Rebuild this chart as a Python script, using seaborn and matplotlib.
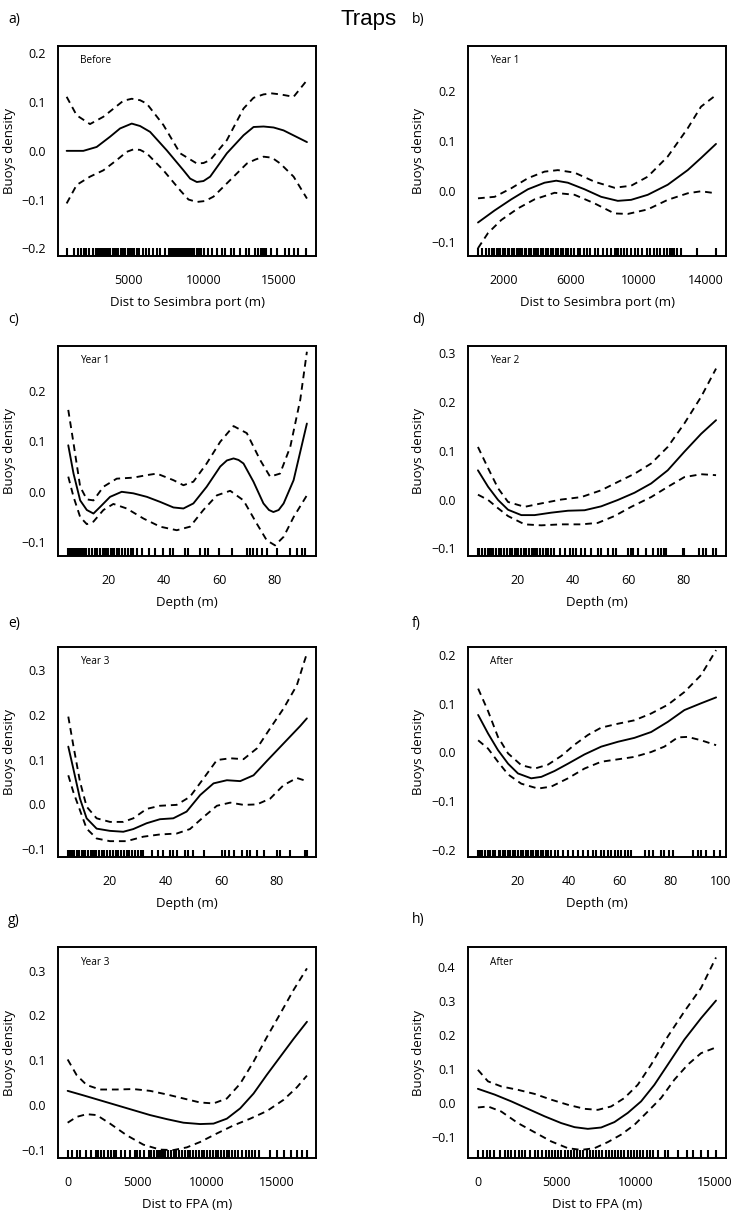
import matplotlib
matplotlib.use("Agg")
import matplotlib.pyplot as plt
import seaborn as sns

# a) Before - distance to Sesimbra port
a_fit_x = [889, 2000, 2889, 3778, 4444, 5222, 5778, 6444, 7556, 8667, 9111, 9556, 10000, 10444, 11556,
           12667, 13333, 14000, 14667, 15333, 16889]
a_fit_y = [0.000, 0.000, 0.008, 0.029, 0.046, 0.056, 0.051, 0.039, 0.001, -0.040, -0.057, -0.064, -0.062,
           -0.053, -0.005, 0.032, 0.049, 0.050, 0.048, 0.042, 0.018]
a_hi_x = [889, 1556, 2444, 3333, 4222, 4667, 5222, 5778, 6222, 7333, 8444, 9556, 10000, 10444, 11556,
          12667, 13333, 14000, 14556, 15111, 16000, 16889]
a_hi_y = [0.111, 0.073, 0.055, 0.070, 0.092, 0.103, 0.107, 0.104, 0.097, 0.053, -0.005, -0.026, -0.025,
          -0.019, 0.022, 0.087, 0.109, 0.116, 0.118, 0.116, 0.111, 0.145]
a_lo_x = [889, 1556, 2444, 3333, 4222, 4889, 5333, 5778, 6222, 7333, 8444, 9000, 9556, 10111, 10667,
          11778, 12889, 13444, 14000, 14556, 15111, 16000, 16889]
a_lo_y = [-0.108, -0.070, -0.053, -0.040, -0.019, -0.002, 0.003, 0.002, -0.005, -0.040, -0.081, -0.100,
          -0.105, -0.103, -0.094, -0.060, -0.026, -0.018, -0.012, -0.014, -0.026, -0.053, -0.098]
a_rug = [900, 1400, 1650, 1850, 2050, 2200, 2400, 2650, 2850, 3000, 3100, 3150, 3250, 3350, 3400, 3500,
         3600, 3650, 3800, 3950, 4100, 4200, 4300, 4500, 4650, 4800, 4950, 5100, 5250, 5400, 5550, 5700,
         5950, 6150, 6400, 6650, 6900, 7100, 7450, 7700, 7850, 8000, 8100, 8150, 8300, 8400, 8500, 8600,
         8650, 8800, 8900, 9000, 9100, 9150, 9300, 9400, 9550, 9700, 9850, 10050, 10300, 10550, 10900,
         11200, 11450, 11800, 12050, 12450, 12800, 13050, 13400, 13650, 13800, 13900, 14000, 14150,
         14500, 14900, 15400, 15700, 16000, 16300, 16850]

# b) Year 1 - distance to Sesimbra port
b_fit_x = [488, 1475, 2462, 3449, 4436, 5127, 5818, 6805, 7792, 8779, 9569, 10556, 11741, 12925, 13715, 14604]
b_fit_y = [-0.062, -0.038, -0.016, 0.004, 0.017, 0.021, 0.017, 0.004, -0.011, -0.019, -0.017, -0.007,
           0.013, 0.042, 0.066, 0.094]
b_hi_x = [488, 1475, 2462, 3449, 4436, 5226, 6213, 7397, 8582, 9569, 10556, 11741, 12925, 13715, 14604]
b_hi_y = [-0.014, -0.011, 0.006, 0.026, 0.039, 0.042, 0.037, 0.019, 0.007, 0.011, 0.029, 0.069, 0.125,
          0.168, 0.191]
b_lo_x = [488, 1080, 1870, 2857, 3844, 5029, 6213, 7397, 8582, 9372, 10556, 11741, 12925, 13715, 14604]
b_lo_y = [-0.113, -0.083, -0.057, -0.034, -0.016, -0.003, -0.007, -0.024, -0.044, -0.045, -0.036, -0.017,
          -0.004, 0.000, -0.004]
b_rug = [490, 750, 950, 1150, 1300, 1450, 1600, 1700, 1800, 1950, 2100, 2250, 2350, 2500, 2650, 2800,
         2900, 2950, 3100, 3250, 3350, 3500, 3650, 3800, 3900, 4050, 4200, 4350, 4500, 4650, 4800, 4950,
         5100, 5250, 5400, 5550, 5700, 5850, 6000, 6200, 6400, 6550, 6750, 6950, 7150, 7400, 7600, 7900,
         8150, 8400, 8600, 8700, 8800, 8950, 9150, 9350, 9550, 9800, 10000, 10200, 10500, 10700, 10900,
         11100, 11300, 11500, 11700, 11900, 12000, 12100, 12300, 12500, 13500, 14600]

# c) Year 1 - depth
c_fit_x = [5.5, 7.4, 9.8, 12.2, 14.6, 17.0, 20.6, 24.8, 29.0, 33.9, 38.7, 43.5, 47.1, 50.7, 55.5, 60.4,
           62.8, 65.2, 67.0, 68.8, 72.4, 76.0, 78.0, 79.6, 81.5, 83.3, 86.9, 91.7]
c_fit_y = [0.092, 0.036, -0.017, -0.036, -0.043, -0.030, -0.010, 0.000, -0.003, -0.010, -0.020, -0.031,
           -0.033, -0.023, 0.010, 0.050, 0.062, 0.066, 0.063, 0.056, 0.020, -0.023, -0.036, -0.040,
           -0.036, -0.023, 0.023, 0.135]
c_hi_x = [5.5, 7.4, 9.8, 12.2, 14.6, 18.2, 23.0, 29.0, 33.9, 37.5, 43.5, 47.1, 50.7, 55.5, 60.4, 65.2,
          70.0, 74.8, 78.4, 82.0, 85.7, 89.3, 91.7]
c_hi_y = [0.162, 0.096, 0.010, -0.015, -0.017, 0.010, 0.026, 0.028, 0.033, 0.036, 0.023, 0.013, 0.020,
          0.056, 0.099, 0.130, 0.116, 0.063, 0.030, 0.036, 0.089, 0.182, 0.277]
c_lo_x = [5.5, 7.4, 9.8, 12.2, 14.6, 18.2, 21.8, 26.6, 32.7, 38.7, 44.7, 49.5, 54.3, 59.2, 64.0, 68.8,
          73.6, 77.2, 80.2, 83.3, 86.9, 91.7]
c_lo_y = [0.030, -0.010, -0.050, -0.064, -0.059, -0.036, -0.024, -0.033, -0.053, -0.069, -0.076, -0.069,
          -0.036, -0.007, 0.002, -0.017, -0.063, -0.096, -0.106, -0.089, -0.050, -0.007]
c_rug = [5.5, 6.0, 6.5, 7.0, 7.5, 8.0, 8.5, 9.0, 9.5, 10.0, 10.5, 11.0, 11.5, 12.0, 13.0, 14.0, 15.0,
         16.0, 17.0, 18.0, 18.5, 19.0, 20.0, 21.0, 21.5, 22.0, 23.0, 23.5, 24.0, 25.0, 26.0, 27.0, 28.0,
         29.0, 30.5, 32.0, 34.5, 36.9, 39.9, 42.3, 43.5, 47.7, 48.9, 53.1, 54.9, 56.1, 59.8, 64.6, 70.0,
         71.2, 72.4, 73.6, 75.4, 77.2, 80.8, 85.7, 88.1, 89.9, 91.1]

# d) Year 2 - depth
d_fit_x = [5.5, 9.2, 12.8, 16.4, 21.2, 26.0, 32.0, 38.1, 44.1, 50.1, 56.1, 62.2, 68.2, 74.2, 80.2, 86.3, 91.7]
d_fit_y = [0.060, 0.026, -0.001, -0.021, -0.032, -0.032, -0.027, -0.023, -0.022, -0.014, -0.001, 0.014,
           0.033, 0.060, 0.098, 0.135, 0.163]
d_hi_x = [5.5, 9.2, 12.8, 16.4, 22.4, 28.4, 35.7, 42.9, 50.1, 56.1, 62.2, 68.2, 74.2, 80.2, 86.3, 91.7]
d_hi_y = [0.108, 0.064, 0.023, -0.005, -0.015, -0.008, 0.000, 0.005, 0.019, 0.036, 0.053, 0.074, 0.108,
          0.156, 0.211, 0.269]
d_lo_x = [5.5, 9.2, 12.8, 16.4, 22.4, 28.4, 35.7, 42.9, 48.9, 54.9, 61.0, 68.2, 74.2, 80.2, 86.3, 91.7]
d_lo_y = [0.010, -0.001, -0.018, -0.034, -0.051, -0.053, -0.051, -0.051, -0.048, -0.034, -0.015, 0.005,
          0.026, 0.046, 0.052, 0.050]
d_rug = [5.5, 6.0, 7.0, 8.0, 9.0, 10.0, 10.5, 11.0, 12.0, 13.0, 13.5, 14.0, 15.0, 16.0, 17.0, 18.0, 19.0,
         19.5, 20.0, 21.0, 22.0, 23.0, 24.0, 25.0, 25.5, 26.0, 27.0, 28.0, 29.0, 30.0, 31.0, 32.0, 33.0,
         35.1, 36.9, 38.7, 39.9, 41.1, 42.9, 44.1, 46.5, 48.9, 50.1, 52.5, 54.3, 55.5, 59.8, 61.0, 61.6,
         63.4, 66.4, 68.8, 70.6, 71.8, 73.0, 73.6, 79.6, 80.2, 85.7, 86.9, 88.1, 90.5, 91.7]

# e) Year 3 - depth
e_fit_x = [5.0, 6.8, 9.2, 11.6, 15.2, 20.0, 24.8, 28.4, 33.2, 38.0, 42.8, 47.6, 52.5, 57.3, 62.1, 66.9,
           71.7, 76.5, 82.5, 88.5, 90.9]
e_fit_y = [0.129, 0.080, 0.013, -0.031, -0.054, -0.059, -0.061, -0.055, -0.042, -0.033, -0.031, -0.016,
           0.021, 0.047, 0.054, 0.052, 0.065, 0.097, 0.136, 0.175, 0.192]
e_hi_x = [5.0, 6.8, 9.2, 11.6, 15.2, 20.0, 24.8, 28.4, 33.2, 38.0, 44.0, 48.8, 53.7, 58.5, 63.3, 68.1,
          72.9, 77.7, 82.5, 87.3, 90.9]
e_hi_y = [0.196, 0.132, 0.051, -0.005, -0.031, -0.039, -0.039, -0.031, -0.010, -0.003, -0.001, 0.017,
          0.058, 0.099, 0.103, 0.101, 0.125, 0.170, 0.214, 0.266, 0.337]
e_lo_x = [5.0, 6.8, 9.2, 11.6, 15.2, 20.0, 26.0, 32.0, 38.0, 44.0, 48.8, 53.7, 58.5, 63.3, 68.1, 72.9,
          77.7, 82.5, 87.3, 90.9]
e_lo_y = [0.065, 0.028, -0.013, -0.054, -0.076, -0.082, -0.082, -0.072, -0.067, -0.065, -0.055, -0.028,
          -0.003, 0.004, -0.001, 0.000, 0.013, 0.043, 0.059, 0.052]
e_rug = [5.0, 5.5, 6.0, 6.5, 7.0, 8.0, 8.5, 9.0, 10.0, 10.5, 11.0, 12.0, 13.0, 14.0, 14.5, 15.0, 16.0,
         17.0, 18.0, 19.0, 20.0, 21.0, 22.0, 22.5, 23.0, 24.0, 25.0, 26.0, 27.0, 28.0, 29.0, 30.0, 31.0,
         32.0, 35.0, 37.4, 39.2, 41.6, 42.8, 44.0, 47.0, 48.2, 50.0, 53.7, 60.3, 61.5, 62.7, 64.5, 67.5,
         69.3, 70.5, 72.9, 75.3, 80.1, 81.3, 84.9, 90.3, 90.9]

# f) After - depth
f_fit_x = [4.3, 8.2, 12.1, 16.1, 20.0, 25.2, 29.2, 34.4, 39.7, 46.2, 52.8, 59.4, 65.9, 72.5, 79.1, 85.6, 92.2, 98.1]
f_fit_y = [0.077, 0.039, 0.005, -0.023, -0.043, -0.053, -0.050, -0.038, -0.023, -0.004, 0.012, 0.022,
           0.030, 0.042, 0.063, 0.087, 0.101, 0.113]
f_hi_x = [4.3, 8.2, 12.1, 16.1, 21.3, 26.6, 31.8, 37.1, 42.3, 47.6, 52.8, 59.4, 65.9, 72.5, 79.1, 85.6, 92.2, 98.1]
f_hi_y = [0.131, 0.085, 0.032, -0.002, -0.026, -0.033, -0.025, -0.007, 0.016, 0.036, 0.051, 0.059, 0.066,
          0.080, 0.098, 0.124, 0.159, 0.210]
f_lo_x = [4.3, 8.2, 12.1, 16.1, 21.3, 27.9, 33.1, 39.7, 46.2, 52.8, 59.4, 65.9, 72.5, 77.7, 83.0, 86.9, 92.2, 98.1]
f_lo_y = [0.025, 0.008, -0.019, -0.045, -0.064, -0.074, -0.070, -0.053, -0.033, -0.019, -0.014, -0.009,
          0.001, 0.012, 0.031, 0.032, 0.025, 0.015]
f_rug = [4.3, 5.0, 5.5, 6.0, 7.0, 8.0, 9.0, 10.0, 11.0, 12.5, 13.0, 14.0, 15.0, 16.0, 17.0, 18.0, 18.5,
         19.0, 20.0, 21.0, 22.0, 23.0, 24.0, 25.0, 26.0, 27.0, 28.0, 29.0, 30.0, 31.0, 32.0, 33.0, 34.4,
         35.7, 37.7, 39.7, 41.7, 43.6, 45.6, 47.6, 49.5, 50.8, 52.8, 54.1, 55.4, 56.7, 58.1, 59.4, 60.7,
         62.0, 63.3, 64.6, 69.9, 71.8, 73.1, 76.4, 77.7, 79.7, 81.0, 88.9, 90.9, 92.2, 94.1, 97.4, 99.5]

# g) Year 3 - distance to FPA
g_fit_x = [0, 1124, 2321, 3517, 4713, 5909, 7105, 8301, 9498, 10455, 11411, 12368, 13325, 14282, 15478, 16196, 17153]
g_fit_y = [0.032, 0.022, 0.011, 0.000, -0.011, -0.022, -0.031, -0.039, -0.042, -0.041, -0.030, -0.007,
           0.026, 0.068, 0.118, 0.148, 0.186]
g_hi_x = [0, 646, 1364, 2321, 3517, 4713, 5909, 7105, 8301, 9498, 10455, 11411, 12368, 13325, 14282,
          15239, 16196, 17153]
g_hi_y = [0.102, 0.067, 0.045, 0.035, 0.035, 0.036, 0.032, 0.024, 0.015, 0.006, 0.004, 0.015, 0.048,
          0.097, 0.152, 0.204, 0.257, 0.305]
g_lo_x = [0, 646, 1364, 2081, 3038, 4234, 5431, 6627, 7584, 8541, 9498, 10694, 11890, 13086, 14282,
          15478, 16435, 17153]
g_lo_y = [-0.039, -0.026, -0.020, -0.022, -0.041, -0.067, -0.088, -0.099, -0.100, -0.094, -0.082, -0.063,
          -0.045, -0.030, -0.013, 0.012, 0.040, 0.066]
g_rug = [0, 300, 650, 900, 1300, 1700, 2000, 2200, 2400, 2600, 2900, 3100, 3300, 3500, 3800, 4100, 4500,
         4800, 5000, 5200, 5500, 5800, 6000, 6200, 6400, 6550, 6700, 6850, 7000, 7200, 7400, 7600, 7800,
         8000, 8200, 8400, 8600, 8800, 9000, 9200, 9400, 9600, 9800, 10000, 10200, 10400, 10600, 10800,
         11000, 11200, 11400, 11600, 11800, 12000, 12200, 12500, 12800, 13000, 13200, 13400, 13700,
         14500, 15000, 15500, 16000, 16450, 16800, 17150]

# h) After - distance to FPA
h_fit_x = [0, 1063, 2119, 3175, 4231, 5288, 6133, 6977, 7822, 8667, 9512, 10357, 11202, 12047, 13103, 14159, 15110]
h_fit_y = [0.042, 0.025, 0.005, -0.017, -0.039, -0.059, -0.071, -0.076, -0.072, -0.056, -0.029, 0.005,
           0.054, 0.113, 0.187, 0.250, 0.302]
h_hi_x = [0, 640, 1485, 2541, 3597, 4653, 5710, 6766, 7611, 8456, 9301, 10146, 10991, 12047, 13103, 14159, 15110]
h_hi_y = [0.098, 0.064, 0.049, 0.039, 0.027, 0.010, -0.005, -0.017, -0.020, -0.010, 0.015, 0.054, 0.113,
          0.196, 0.270, 0.339, 0.429]
h_lo_x = [0, 640, 1485, 2541, 3597, 4653, 5710, 6555, 7400, 8245, 9090, 9935, 10780, 11625, 12470, 13315,
          14159, 15110]
h_lo_y = [-0.013, -0.010, -0.025, -0.059, -0.086, -0.113, -0.133, -0.138, -0.133, -0.115, -0.093, -0.064,
          -0.025, 0.015, 0.069, 0.113, 0.147, 0.164]
h_rug = [0, 300, 550, 800, 1050, 1400, 1700, 1900, 2100, 2350, 2600, 2800, 3000, 3300, 3600, 3800, 4100,
         4300, 4500, 4700, 4900, 5100, 5300, 5500, 5700, 5900, 6100, 6300, 6500, 6700, 6900, 7100, 7300,
         7500, 7700, 7900, 8100, 8300, 8500, 8700, 8900, 9100, 9300, 9500, 9700, 9900, 10100, 10300,
         10500, 10700, 10900, 11100, 11400, 11850, 12050, 12700, 13300, 13650, 14150, 14600, 15100]

letters = ["a)", "b)", "c)", "d)", "e)", "f)", "g)", "h)"]
periods = ["Before", "Year 1", "Year 1", "Year 2", "Year 3", "After", "Year 3", "After"]
xlabels = ["Dist to Sesimbra port (m)"] * 2 + ["Depth (m)"] * 4 + ["Dist to FPA (m)"] * 2
xticks = [[5000, 10000, 15000], [2000, 6000, 10000, 14000], [20, 40, 60, 80], [20, 40, 60, 80],
          [20, 40, 60, 80], [20, 40, 60, 80, 100], [0, 5000, 10000, 15000], [0, 5000, 10000, 15000]]
yticks = [[-0.2, -0.1, 0.0, 0.1, 0.2], [-0.1, 0.0, 0.1, 0.2], [-0.1, 0.0, 0.1, 0.2],
          [-0.1, 0.0, 0.1, 0.2, 0.3], [-0.1, 0.0, 0.1, 0.2, 0.3], [-0.2, -0.1, 0.0, 0.1, 0.2],
          [-0.1, 0.0, 0.1, 0.2, 0.3], [-0.1, 0.0, 0.1, 0.2, 0.3, 0.4]]
xlims = [(333, 17511), (-105, 15197), (1.9, 95.1), (1.9, 95.3), (1.4, 94.3), (0.3, 102.0),
         (-670, 17823), (-627, 15744)]
ylims = [(-0.216, 0.216), (-0.1285, 0.289), (-0.127, 0.289), (-0.116, 0.316), (-0.118, 0.352),
         (-0.215, 0.217), (-0.117, 0.352), (-0.161, 0.459)]

curves = [
    (a_fit_x, a_fit_y, a_hi_x, a_hi_y, a_lo_x, a_lo_y, a_rug),
    (b_fit_x, b_fit_y, b_hi_x, b_hi_y, b_lo_x, b_lo_y, b_rug),
    (c_fit_x, c_fit_y, c_hi_x, c_hi_y, c_lo_x, c_lo_y, c_rug),
    (d_fit_x, d_fit_y, d_hi_x, d_hi_y, d_lo_x, d_lo_y, d_rug),
    (e_fit_x, e_fit_y, e_hi_x, e_hi_y, e_lo_x, e_lo_y, e_rug),
    (f_fit_x, f_fit_y, f_hi_x, f_hi_y, f_lo_x, f_lo_y, f_rug),
    (g_fit_x, g_fit_y, g_hi_x, g_hi_y, g_lo_x, g_lo_y, g_rug),
    (h_fit_x, h_fit_y, h_hi_x, h_hi_y, h_lo_x, h_lo_y, h_rug),
]

sns.set_theme(style="white")
plt.rcParams['font.family'] = ['Open Sans', 'DejaVu Sans']

W, H = 737, 1217
fig = plt.figure(figsize=(W / 100, H / 100), dpi=100)

col_left = [58.3, 468.0]
row_top = [45.7, 345.7, 646.7, 947.3]
row_bot = [256.0, 556.0, 857.3, 1157.7]
letter_y = [20, 320, 623, 920]
letter_x = [8, 412]
box_w = 258.0

dash = (0, (3.6, 2.6))

for i in range(8):
    r, c = divmod(i, 2)
    left = col_left[c] / W
    bottom = 1 - row_bot[r] / H
    height = (row_bot[r] - row_top[r]) / H
    ax = fig.add_axes([left, bottom, box_w / W, height])
    fx, fy, hx, hy, lx, ly, rug = curves[i]

    sns.lineplot(x=fx, y=fy, ax=ax, color="black", lw=1.35, sort=False, estimator=None)
    sns.lineplot(x=hx, y=hy, ax=ax, color="black", lw=1.35, sort=False, estimator=None, linestyle=dash)
    sns.lineplot(x=lx, y=ly, ax=ax, color="black", lw=1.35, sort=False, estimator=None, linestyle=dash)
    sns.rugplot(x=rug, ax=ax, height=0.036, color="black", linewidth=1.5)

    ax.set_xlim(*xlims[i])
    ax.set_ylim(*ylims[i])
    ax.set_xticks(xticks[i], labels=[str(v) for v in xticks[i]])
    ax.set_yticks(yticks[i], labels=[f"{v:.1f}".replace("-", "\u2212") for v in yticks[i]])
    ax.tick_params(axis="y", direction="in", length=4, width=1, pad=9, labelsize=9, colors="black")
    ax.tick_params(axis="x", length=0, pad=13, labelsize=9, colors="black")
    for s in ax.spines.values():
        s.set_visible(True)
        s.set_color("black")
        s.set_linewidth(1.4)

    ax.set_xlabel(xlabels[i], fontsize=9.5, color="black")
    ax.set_ylabel("Buoys density", fontsize=9.5, color="black")
    ax.xaxis.set_label_coords(0.5, -0.19)
    ax.yaxis.set_label_coords(-0.165, 0.5)

    ax.text(0.085, 0.93, periods[i], transform=ax.transAxes, ha="left", va="center",
            fontsize=7.2, color="black")
    fig.text(letter_x[c] / W, 1 - letter_y[r] / H, letters[i], ha="left", va="center",
             fontsize=10, color="black")

fig.text(0.5, 1 - 20 / H, "Traps", ha="center", va="center", fontsize=16,
         family=["Liberation Sans", "DejaVu Sans"], color="black")

fig.savefig("out.png", dpi=100)
